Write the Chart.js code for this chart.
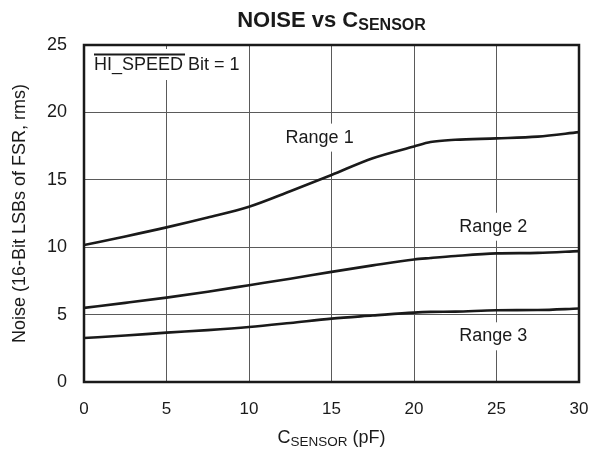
<!DOCTYPE html>
<html>
<head>
<meta charset="utf-8">
<script src="https://cdn.jsdelivr.net/npm/chart.js@4/dist/chart.umd.min.js"></script>
<style>
  html, body { margin: 0; padding: 0; background: #fff; }
  #wrap { width: 591px; height: 449px; }
</style>
</head>
<body>
<div id="wrap"><canvas id="chart" width="591" height="449"></canvas></div>
<script>
  // capacitance (pF) and noise readings for each range
  const capValues = [0, 2.5, 5, 7.5, 10, 12.5, 15, 17.5, 20, 21, 22.5, 25, 27.5, 30];
  const range1 = [10.16, 10.8, 11.47, 12.2, 13.0, 14.15, 15.36, 16.6, 17.47, 17.8, 17.97, 18.07, 18.2, 18.54];
  const range2 = [5.5, 5.87, 6.26, 6.7, 7.18, 7.66, 8.17, 8.65, 9.09, 9.2, 9.35, 9.54, 9.58, 9.71];
  const range3 = [3.26, 3.45, 3.66, 3.85, 4.08, 4.38, 4.7, 4.93, 5.15, 5.2, 5.22, 5.32, 5.34, 5.45];
  const xTicks = [0, 5, 10, 15, 20, 25, 30];
  const yTicks = [0, 5, 10, 15, 20, 25];
  const rangeLabels = [
    { text: "Range 1", x: 14.28, y: 18.13 },
    { text: "Range 2", x: 24.8, y: 11.52 },
    { text: "Range 3", x: 24.8, y: 3.39 },
  ];

  const FONT = "'Liberation Sans', Arial, Helvetica, sans-serif";
  const INK = "#1a1a1a";

  function toPoints(ys) {
    return capValues.map((x, i) => ({ x: x, y: ys[i] }));
  }

  function lineSet(label, ys) {
    return {
      label: label,
      data: toPoints(ys),
      borderColor: INK,
      borderWidth: 2.6,
      pointRadius: 0,
      cubicInterpolationMode: "monotone",
      fill: false,
    };
  }

  // main text + lowered subscript + tail, centered on cx
  function subText(ctx, cx, cy, main, sub, tail, size, subSize, drop, bold) {
    const w = bold ? "bold " : "";
    const big = w + size + "px " + FONT;
    const small = w + subSize + "px " + FONT;
    ctx.font = big;
    const w1 = ctx.measureText(main).width;
    const w3 = ctx.measureText(tail).width;
    ctx.font = small;
    const w2 = ctx.measureText(sub).width;
    let x = cx - (w1 + w2 + w3) / 2;
    ctx.textBaseline = "alphabetic";
    ctx.textAlign = "left";
    ctx.font = big;
    ctx.fillText(main, x, cy);
    x += w1;
    ctx.font = small;
    ctx.fillText(sub, x, cy + drop);
    x += w2;
    ctx.font = big;
    ctx.fillText(tail, x, cy);
  }

  const decorPlugin = {
    id: "decor",
    beforeDatasetsDraw(chart) {
      const ctx = chart.ctx;
      const a = chart.chartArea;
      const xs = chart.scales.x;
      const ys = chart.scales.y;
      ctx.save();
      ctx.font = "18px " + FONT;
      ctx.fillStyle = "#fff";
      // white backing behind labels so the grid breaks around them
      rangeLabels.forEach((l) => {
        const px = xs.getPixelForValue(l.x);
        const py = ys.getPixelForValue(l.y);
        const tw = ctx.measureText(l.text).width;
        ctx.fillRect(px - tw / 2 - 3, py - 14, tw + 6, 28);
      });
      ctx.fillRect(a.left + 2, a.top + 4, 158, 31);
      ctx.restore();
    },
    afterDatasetsDraw(chart) {
      const ctx = chart.ctx;
      const a = chart.chartArea;
      const xs = chart.scales.x;
      const ys = chart.scales.y;
      ctx.save();
      ctx.fillStyle = INK;
      ctx.font = "18px " + FONT;
      ctx.textAlign = "center";
      ctx.textBaseline = "middle";
      rangeLabels.forEach((l) => {
        ctx.fillText(l.text, xs.getPixelForValue(l.x), ys.getPixelForValue(l.y));
      });

      // HI_SPEED note with overline
      ctx.textAlign = "left";
      ctx.textBaseline = "alphabetic";
      const t1 = "HI_SPEED";
      ctx.fillText(t1 + " Bit = 1", a.left + 10, a.top + 25);
      const ow = ctx.measureText(t1).width;
      ctx.strokeStyle = INK;
      ctx.lineWidth = 1.8;
      ctx.beginPath();
      ctx.moveTo(a.left + 10, a.top + 9.5);
      ctx.lineTo(a.left + 12 + ow, a.top + 9.5);
      ctx.stroke();

      // frame
      ctx.lineWidth = 2.5;
      ctx.strokeRect(a.left, a.top, a.right - a.left, a.bottom - a.top);

      // title and x axis title with subscripts
      const cx = (a.left + a.right) / 2;
      subText(ctx, cx, 26.5, "NOISE vs C", "SENSOR", "", 22, 16, 3, true);
      subText(ctx, cx, 443, "C", "SENSOR", " (pF)", 18, 13.5, 3.4, false);
      ctx.restore();
    },
  };

  new Chart(document.getElementById("chart"), {
    type: "line",
    data: {
      datasets: [lineSet("Range 1", range1), lineSet("Range 2", range2), lineSet("Range 3", range3)],
    },
    plugins: [decorPlugin],
    options: {
      responsive: false,
      animation: false,
      events: [],
      layout: { padding: { top: 45, right: 12, bottom: 0, left: 0 } },
      plugins: {
        legend: { display: false },
        title: { display: false },
        tooltip: { enabled: false },
      },
      scales: {
        x: {
          type: "linear",
          min: 0,
          max: 30,
          afterBuildTicks: (s) => { s.ticks = xTicks.map((v) => ({ value: v })); },
          afterFit: (s) => { s.height = 67; s.paddingLeft = 0; s.paddingRight = 0; },
          grid: { color: "#5a5a5a", lineWidth: 1, drawTicks: false },
          border: { display: false },
          ticks: { color: INK, font: { family: FONT, size: 17 }, padding: 17, maxRotation: 0 },
        },
        y: {
          min: 0,
          max: 25,
          afterBuildTicks: (s) => { s.ticks = yTicks.map((v) => ({ value: v })); },
          afterFit: (s) => { s.width = 84; s.paddingTop = 0; s.paddingBottom = 0; },
          grid: { color: "#5a5a5a", lineWidth: 1, drawTicks: false },
          border: { display: false },
          ticks: { color: INK, font: { family: FONT, size: 18 }, padding: 17 },
          title: {
            display: true,
            text: "Noise (16-Bit LSBs of FSR, rms)",
            color: INK,
            font: { family: FONT, size: 18 },
            padding: { top: 9, bottom: 0 },
          },
        },
      },
    },
  });
</script>
</body>
</html>
